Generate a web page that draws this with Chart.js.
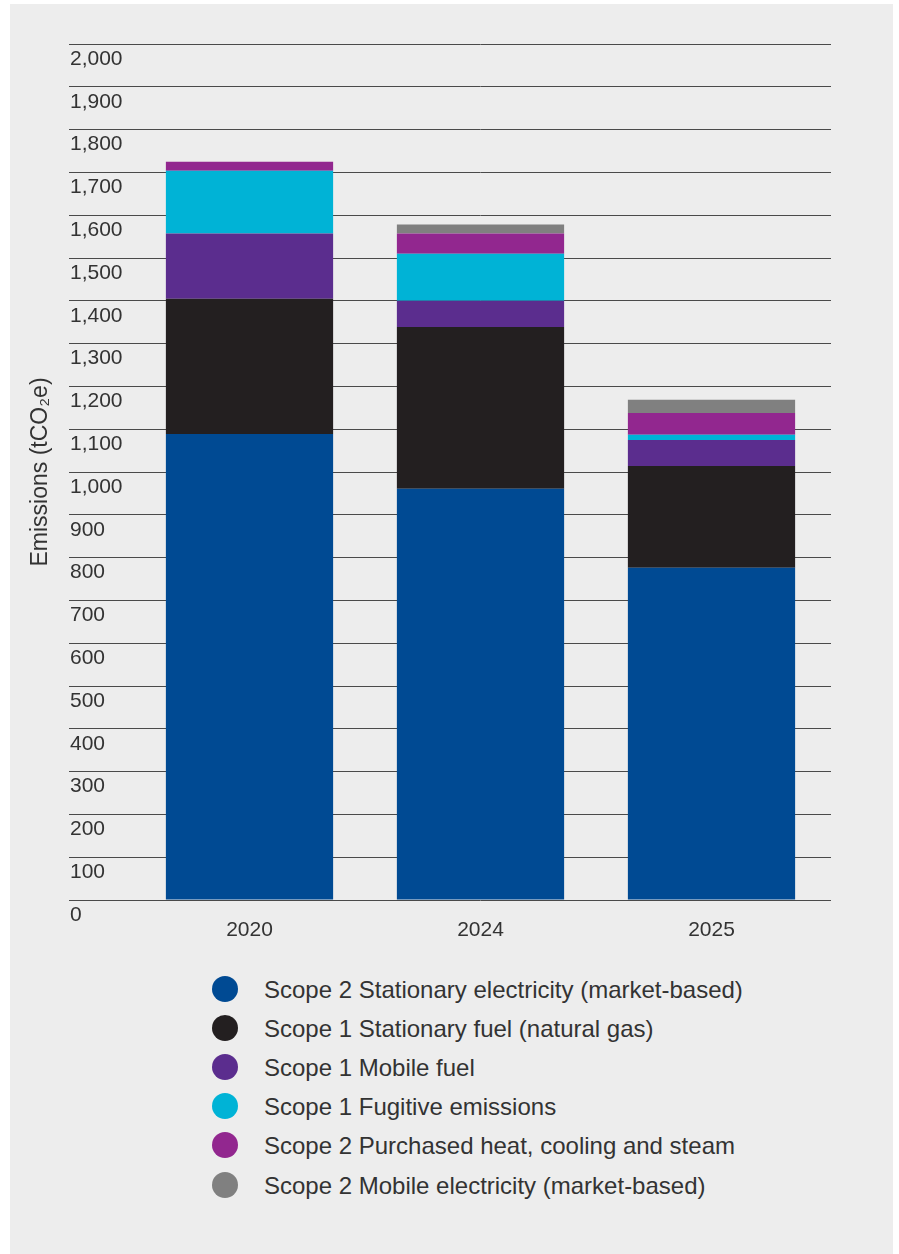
<!DOCTYPE html>
<html>
<head>
<meta charset="utf-8">
<title>Emissions by source</title>
<script src="https://cdn.jsdelivr.net/npm/chart.js@4.4.1/dist/chart.umd.min.js"></script>
<style>
  html, body { margin: 0; padding: 0; background: #fff; }
  body { width: 899px; height: 1254px; position: relative; overflow: hidden; font-family: "Liberation Sans", Arial, sans-serif; }
  #panel { position: absolute; left: 10px; top: 4px; width: 883px; height: 1250px; background: #ededed; }
  #chart { position: absolute; left: 0; top: 0; }
  #legend { position: absolute; left: 212px; top: 970px; list-style: none; margin: 0; padding: 0; }
  #legend li { display: flex; align-items: center; height: 39.2px; font-size: 24px; color: #333; white-space: nowrap; }
  #legend .dot { width: 26px; height: 26px; border-radius: 50%; margin-right: 26px; flex: none; position: relative; top: -1px; }
</style>
</head>
<body>
<div id="panel"></div>
<canvas id="chart" width="899" height="960"></canvas>
<ul id="legend"></ul>

<script>
// categories
const years = ['2020', '2024', '2025'];

// series (tCO2e), bottom of the stack first
const stationaryElec = [1089, 961, 776];
const stationaryFuel = [316, 378, 238];
const mobileFuel     = [152, 61, 61];
const fugitive       = [147, 110, 12];
const purchasedHeat  = [21, 47, 51];
const mobileElec     = [0, 21, 31];

const seriesNames = [
  'Scope 2 Stationary electricity (market-based)',
  'Scope 1 Stationary fuel (natural gas)',
  'Scope 1 Mobile fuel',
  'Scope 1 Fugitive emissions',
  'Scope 2 Purchased heat, cooling and steam',
  'Scope 2 Mobile electricity (market-based)'
];
const seriesColors = ['#004a93', '#231f20', '#5b2d8e', '#00b3d6', '#92278f', '#808080'];
const seriesValues = [stationaryElec, stationaryFuel, mobileFuel, fugitive, purchasedHeat, mobileElec];

// y axis range / tick step
const yMin = 0;
const yMax = 2000;
const yStep = 100;
const yTitle = 'Emissions (tCO\u2082e)';

const FONT = '"Liberation Sans", Arial, sans-serif';
const TEXT = '#333333';
const GRID = '#4a4a4a';

const datasets = seriesValues.map((vals, i) => ({
  label: seriesNames[i],
  data: vals,
  backgroundColor: seriesColors[i],
  borderWidth: 0,
  categoryPercentage: 1,
  barPercentage: 0.724
}));

const chart = new Chart(document.getElementById('chart'), {
  type: 'bar',
  data: { labels: years, datasets: datasets },
  options: {
    responsive: false,
    animation: false,
    locale: 'en-US',
    layout: { padding: { top: 44, left: 10, right: 68, bottom: 0 } },
    plugins: {
      legend: { display: false },
      tooltip: { enabled: false }
    },
    scales: {
      x: {
        stacked: true,
        grid: { display: false, drawTicks: false },
        border: { display: false },
        ticks: { color: TEXT, font: { family: FONT, size: 21 }, padding: 18 },
        afterFit: s => { s.height = 60; }
      },
      y: {
        stacked: true,
        position: 'left',
        weight: 0,
        min: yMin,
        max: yMax,
        grid: { color: GRID, lineWidth: 1, drawTicks: true, tickLength: 65 },
        border: { display: false },
        ticks: {
          stepSize: yStep,
          crossAlign: 'far',
          labelOffset: 15,
          color: TEXT,
          font: { family: FONT, size: 21 }
        },
        afterFit: s => { s.width = 64; }
      },
      // holds only the rotated axis title, to the left of the tick labels
      yTitleAxis: {
        type: 'linear',
        position: 'left',
        weight: 1,
        display: true,
        min: yMin,
        max: yMax,
        grid: { display: false, drawTicks: false },
        border: { display: false },
        ticks: { display: false },
        title: {
          display: true,
          text: yTitle,
          color: TEXT,
          font: { family: FONT, size: 23 },
          padding: { top: 17, bottom: 0 }
        },
        afterFit: s => { s.width = 60; }
      },
      // short tick stubs past the right edge of the plot
      yRight: {
        type: 'linear',
        position: 'right',
        display: true,
        min: yMin,
        max: yMax,
        grid: { color: GRID, lineWidth: 1, drawOnChartArea: false, drawTicks: true, tickLength: 4 },
        border: { display: false },
        ticks: { display: false, stepSize: yStep },
        afterFit: s => { s.width = 4; }
      }
    }
  }
});

// legend as a vertical list under the chart
const legendEl = document.getElementById('legend');
chart.data.datasets.forEach(ds => {
  const li = document.createElement('li');
  const dot = document.createElement('span');
  dot.className = 'dot';
  dot.style.background = ds.backgroundColor;
  li.appendChild(dot);
  li.appendChild(document.createTextNode(ds.label));
  legendEl.appendChild(li);
});
</script>
</body>
</html>
